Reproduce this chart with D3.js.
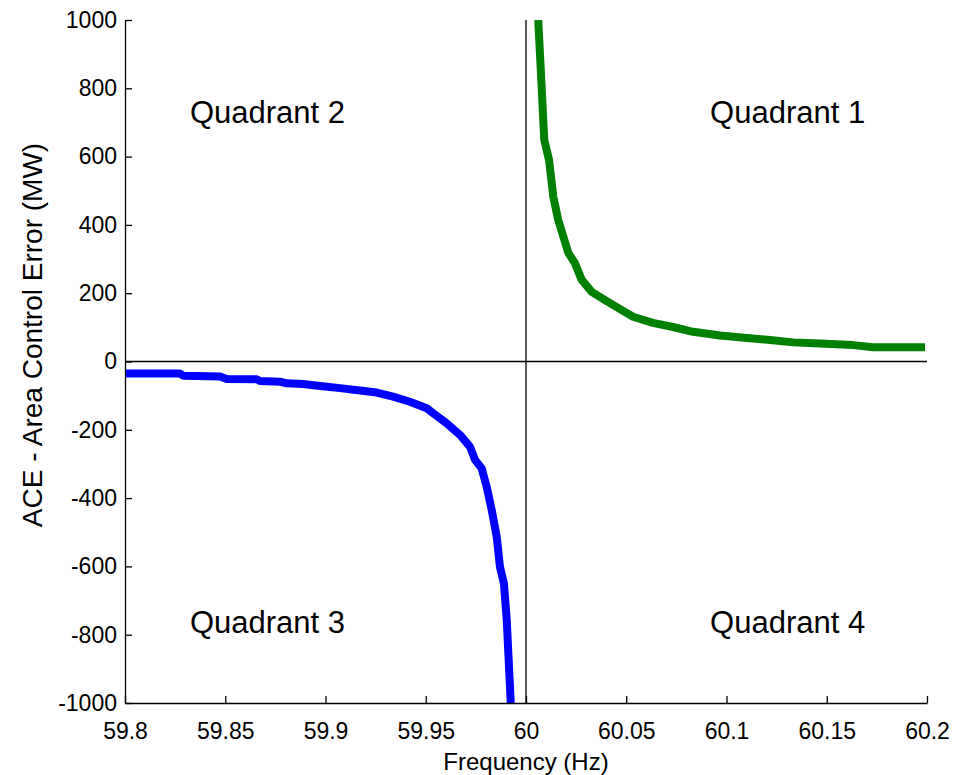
<!DOCTYPE html>
<html>
<head>
<meta charset="utf-8">
<script src="https://cdn.jsdelivr.net/npm/d3@7"></script>
<style>
  body { margin: 0; background: #fff; }
  svg { display: block; font-family: "Liberation Sans", Arial, sans-serif; }
  .axis path, .axis line { stroke: #000; stroke-width: 1.3; }
  .axis text { font-size: 23px; fill: #000; }
  .zero { stroke: #000; stroke-width: 1.3; }
</style>
</head>
<body>
<script>
//data
var xTicks = [59.8, 59.85, 59.9, 59.95, 60, 60.05, 60.1, 60.15, 60.2];
var yTicks = [-1000, -800, -600, -400, -200, 0, 200, 400, 600, 800, 1000];

//quadrant 1 curve (frequency above 60 Hz)
var greenFreq = [60.0061, 60.0078, 60.0091, 60.0115, 60.0136, 60.0161, 60.0211, 60.0244, 60.0278, 60.0328, 60.0394, 60.0459, 60.0534, 60.0633, 60.0733, 60.0833, 60.0968, 60.1102, 60.1217, 60.1332, 60.1466, 60.1631, 60.1731, 60.1990];
var greenAce = [1000, 805, 649, 590, 483, 414, 318, 288, 239, 204, 180, 157, 131, 113, 101, 87, 76, 69, 63, 56, 53, 48, 42, 42];

//quadrant 3 curve (frequency below 60 Hz)
var blueFreq = [59.8, 59.8274, 59.8291, 59.8474, 59.8507, 59.8657, 59.8673, 59.8773, 59.8806, 59.8888, 59.8973, 59.9072, 59.9172, 59.9255, 59.9337, 59.9421, 59.9505, 59.9538, 59.9604, 59.9671, 59.9721, 59.9746, 59.9779, 59.9804, 59.9829, 59.9854, 59.9870, 59.9890, 59.9904, 59.9912, 59.9924];
var blueAce = [-35, -35, -42, -44, -51, -52, -57, -59, -64, -66, -72, -78, -85, -91, -103, -118, -137, -152, -181, -215, -250, -288, -313, -367, -435, -513, -601, -650, -757, -855, -1000];

var quadNames = ["Quadrant 1", "Quadrant 2", "Quadrant 3", "Quadrant 4"];
var quadFreq = [60.0918, 59.8324, 59.8324, 60.0918];
var quadAce = [730, 730, -763, -763];

//frame
var width = 961, height = 775;
var margin = {left: 125, right: 34, top: 20, bottom: 72};

var svg = d3.select("body").append("svg")
    .attr("width", width)
    .attr("height", height);

var x = d3.scaleLinear()
    .domain([59.8, 60.2])
    .range([margin.left, width - margin.right]);

var y = d3.scaleLinear()
    .domain([-1000, 1000])
    .range([height - margin.bottom, margin.top]);

//clip so the thick curves stop at the frame
svg.append("clipPath").attr("id", "plotClip")
  .append("rect")
    .attr("x", x(59.8))
    .attr("y", y(1000))
    .attr("width", x(60.2) - x(59.8))
    .attr("height", y(-1000) - y(1000));

//zero lines
svg.append("line").attr("class", "zero")
    .attr("x1", x(59.8)).attr("x2", x(60.2))
    .attr("y1", y(0)).attr("y2", y(0));
svg.append("line").attr("class", "zero")
    .attr("x1", x(60)).attr("x2", x(60))
    .attr("y1", y(1000)).attr("y2", y(-1000));

var line = d3.line()
    .x(function(d){ return x(d[0]); })
    .y(function(d){ return y(d[1]); });

var curves = [
  {f: greenFreq, a: greenAce, color: "#008000"},
  {f: blueFreq, a: blueAce, color: "#0000ff"}
];

curves.forEach(function(c){
  var pts = c.f.map(function(v, i){ return [v, c.a[i]]; });
  svg.append("path")
      .datum(pts)
      .attr("clip-path", "url(#plotClip)")
      .attr("fill", "none")
      .attr("stroke", c.color)
      .attr("stroke-width", 8)
      .attr("stroke-linejoin", "round")
      .attr("d", line);
});

//axes, ticks pointing inward
var xAxis = d3.axisBottom(x)
    .tickValues(xTicks)
    .tickFormat(function(d){ return String(+d.toFixed(2)); })
    .tickSizeInner(-7)
    .tickSizeOuter(0)
    .tickPadding(20);

svg.append("g")
    .attr("class", "axis")
    .attr("transform", "translate(0," + y(-1000) + ")")
    .call(xAxis);

//plain hyphen for negatives, like the original
var yAxis = d3.axisLeft(y)
    .tickValues(yTicks)
    .tickFormat(function(d){ return String(d); })
    .tickSizeInner(-7)
    .tickSizeOuter(0)
    .tickPadding(8);

svg.append("g")
    .attr("class", "axis")
    .attr("transform", "translate(" + x(59.8) + ",0)")
    .call(yAxis);

//quadrant labels
svg.selectAll(".quad")
    .data(quadNames)
    .enter()
    .append("text")
    .attr("class", "quad")
    .attr("x", function(d, i){ return x(quadFreq[i]); })
    .attr("y", function(d, i){ return y(quadAce[i]); })
    .attr("dy", "0.35em")
    .style("font-size", "31px")
    .text(function(d){ return d; });

//axis titles
svg.append("text")
    .attr("x", x(60))
    .attr("y", 770)
    .attr("text-anchor", "middle")
    .style("font-size", "24px")
    .text("Frequency (Hz)");

svg.append("text")
    .attr("transform", "translate(42," + 335 + ") rotate(-90)")
    .attr("text-anchor", "middle")
    .style("font-size", "28px")
    .text("ACE - Area Control Error (MW)");
</script>
</body>
</html>
